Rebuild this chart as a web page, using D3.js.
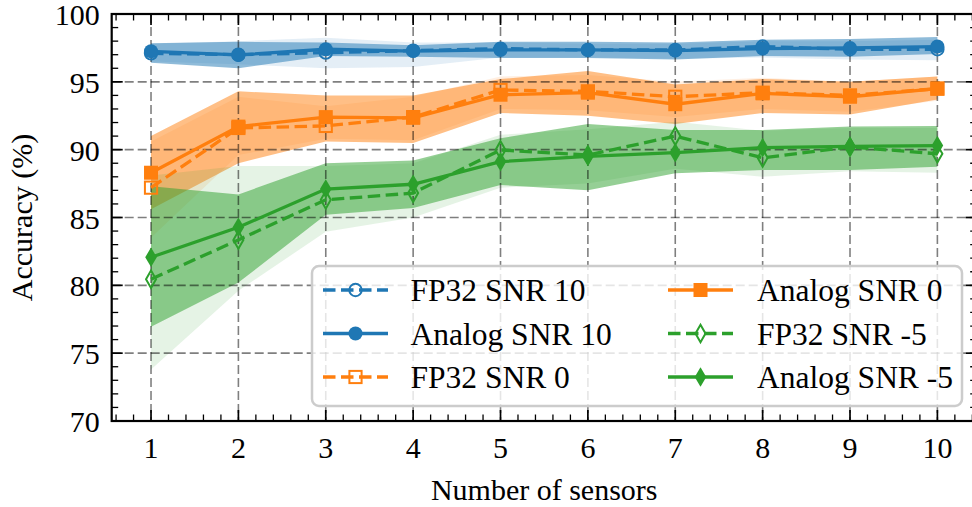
<!DOCTYPE html>
<html>
<head>
<meta charset="utf-8">
<script src="https://cdn.jsdelivr.net/npm/d3@7"></script>
<style>
html,body{margin:0;padding:0;background:#fff;}
svg{display:block;}
text{font-family:"Liberation Serif","Times New Roman",serif;fill:#000;}
</style>
</head>
<body>
<svg id="chart" width="972" height="507"></svg>
<script>
// ---------- data ----------
const sensors = [1,2,3,4,5,6,7,8,9,10];
const yTicks = [70,75,80,85,90,95,100];
const xTicks = [1,2,3,4,5,6,7,8,9,10];

const fp32_10_mean = [97.1,97.0,97.15,97.3,97.45,97.35,97.35,97.6,97.4,97.4];
const fp32_10_lo   = [96.5,96.3,96.0,96.1,96.8,96.8,96.7,96.8,96.65,96.6];
const fp32_10_hi   = [97.8,98.0,98.25,97.9,97.9,97.8,97.8,98.0,98.0,98.1];

const analog_10_mean = [97.25,96.98,97.4,97.27,97.35,97.35,97.3,97.45,97.5,97.6];
const analog_10_lo   = [96.4,96.0,96.9,96.85,96.75,96.75,96.65,96.9,96.85,97.05];
const analog_10_hi   = [97.85,97.95,97.9,97.7,97.95,97.95,97.9,98.1,98.15,98.3];

const fp32_0_mean = [87.2,91.6,91.75,92.4,94.4,94.3,93.9,94.2,94.0,94.5];
const fp32_0_lo   = [83.5,89.6,90.8,90.7,93.0,92.9,92.4,93.0,92.8,93.6];
const fp32_0_hi   = [90.6,93.9,93.2,93.9,95.4,95.5,95.0,95.3,95.0,95.4];

const analog_0_mean = [88.3,91.7,92.4,92.35,94.05,94.2,93.35,94.15,93.9,94.5];
const analog_0_lo   = [85.6,89.0,90.6,90.5,92.7,92.5,91.9,92.7,92.6,93.7];
const analog_0_hi   = [91.0,94.3,94.0,94.0,95.2,95.8,94.8,95.2,95.0,95.4];

const fp32_m5_mean = [80.45,83.35,86.3,86.8,89.98,89.6,91.0,89.4,90.2,89.7];
const fp32_m5_lo   = [73.8,79.6,83.95,85.0,87.2,87.5,88.6,88.0,88.4,88.3];
const fp32_m5_hi   = [88.1,88.8,88.8,89.0,91.1,91.5,92.06,91.4,91.6,91.6];

const analog_m5_mean = [82.07,84.28,87.1,87.45,89.12,89.5,89.78,90.15,90.25,90.3];
const analog_m5_lo   = [76.95,80.2,85.2,85.7,87.4,87.0,88.26,88.5,88.5,88.75];
const analog_m5_hi   = [87.3,86.7,89.0,89.2,90.84,91.9,91.45,91.45,91.7,91.75];

const seriesNames = ["FP32 SNR 10","Analog SNR 10","FP32 SNR 0","Analog SNR 0","FP32 SNR -5","Analog SNR -5"];
const seriesColors = ["#1f77b4","#1f77b4","#ff7f0e","#ff7f0e","#2ca02c","#2ca02c"];
const seriesMarkers = ["circle","circle","square","square","diamond","diamond"];
const seriesFP32 = [true,false,true,false,true,false];
const seriesMeans = [fp32_10_mean,analog_10_mean,fp32_0_mean,analog_0_mean,fp32_m5_mean,analog_m5_mean];
const seriesLo = [fp32_10_lo,analog_10_lo,fp32_0_lo,analog_0_lo,fp32_m5_lo,analog_m5_lo];
const seriesHi = [fp32_10_hi,analog_10_hi,fp32_0_hi,analog_0_hi,fp32_m5_hi,analog_m5_hi];

// ---------- layout ----------
const svg = d3.select("#chart");
const L = 111.7, R = 976.7, T = 14, B = 421;
const x = d3.scaleLinear().domain([0.55,10.45]).range([L,R]);
const y = d3.scaleLinear().domain([70,100]).range([B,T]);
const FS = 30, LFS = 31.5;
const DASH = "12.5,5.5";

svg.append("defs").append("clipPath").attr("id","clip").append("rect")
  .attr("x",L).attr("y",T).attr("width",R-L).attr("height",B-T);

const plot = svg.append("g").attr("clip-path","url(#clip)");

// bands
seriesNames.forEach((n,i)=>{
  const area = d3.area()
    .x((d,j)=>x(sensors[j]))
    .y0((d,j)=>y(seriesLo[i][j]))
    .y1((d,j)=>y(seriesHi[i][j]));
  plot.append("path").datum(sensors)
    .attr("d",area)
    .attr("fill",seriesColors[i])
    .attr("fill-opacity",seriesFP32[i]?0.12:0.5)
    .attr("stroke","none");
});

// grid
const grid = plot.append("g");
xTicks.forEach(t=>{
  grid.append("line").attr("x1",x(t)).attr("x2",x(t)).attr("y1",T).attr("y2",B)
    .attr("stroke","#000").attr("stroke-opacity",0.5).attr("stroke-width",1.6)
    .attr("stroke-dasharray","9,4");
});
yTicks.forEach(t=>{
  grid.append("line").attr("x1",L).attr("x2",R).attr("y1",y(t)).attr("y2",y(t))
    .attr("stroke","#000").attr("stroke-opacity",0.5).attr("stroke-width",1.6)
    .attr("stroke-dasharray","9,4");
});

function drawMarker(g, type, cx, cy, color, hollow){
  let m;
  if(type==="circle"){
    m = g.append("circle").attr("cx",cx).attr("cy",cy).attr("r",hollow?6.2:7);
  } else if(type==="square"){
    const s = hollow?12.2:14;
    m = g.append("rect").attr("x",cx-s/2).attr("y",cy-s/2).attr("width",s).attr("height",s);
  } else {
    const w = hollow?5:5.8, h = hollow?8.8:9.8;
    m = g.append("path").attr("d",`M${cx},${cy-h}L${cx+w},${cy}L${cx},${cy+h}L${cx-w},${cy}Z`);
  }
  if(hollow){ m.attr("fill","none").attr("stroke",color).attr("stroke-width",2); }
  else { m.attr("fill",color).attr("stroke","none"); }
}

// lines + markers
seriesNames.forEach((n,i)=>{
  const line = d3.line().x((d,j)=>x(sensors[j])).y(d=>y(d));
  plot.append("path").datum(seriesMeans[i]).attr("d",line)
    .attr("fill","none").attr("stroke",seriesColors[i]).attr("stroke-width",3.3)
    .attr("stroke-dasharray",seriesFP32[i]?DASH:null);
  const mg = plot.append("g");
  seriesMeans[i].forEach((v,j)=>drawMarker(mg,seriesMarkers[i],x(sensors[j]),y(v),seriesColors[i],seriesFP32[i]));
});

// axes / spines with inward ticks
const ax = svg.append("g");
const xMinor = d3.range(0.6,10.45,0.2).filter(v=>Math.abs(v-Math.round(v))>1e-6);
const yMinor = d3.range(70,100.01,1).filter(v=>v%5!==0);
const tickCol = "#000";
xTicks.forEach(t=>{
  ax.append("line").attr("x1",x(t)).attr("x2",x(t)).attr("y1",B).attr("y2",B-11).attr("stroke",tickCol).attr("stroke-width",1.7);
  ax.append("line").attr("x1",x(t)).attr("x2",x(t)).attr("y1",T).attr("y2",T+11).attr("stroke",tickCol).attr("stroke-width",1.7);
});
xMinor.forEach(t=>{
  ax.append("line").attr("x1",x(t)).attr("x2",x(t)).attr("y1",B).attr("y2",B-6.5).attr("stroke",tickCol).attr("stroke-width",1.3);
  ax.append("line").attr("x1",x(t)).attr("x2",x(t)).attr("y1",T).attr("y2",T+6.5).attr("stroke",tickCol).attr("stroke-width",1.3);
});
yTicks.forEach(t=>{
  ax.append("line").attr("x1",L).attr("x2",L+11).attr("y1",y(t)).attr("y2",y(t)).attr("stroke",tickCol).attr("stroke-width",1.7);
  ax.append("line").attr("x1",R).attr("x2",R-11).attr("y1",y(t)).attr("y2",y(t)).attr("stroke",tickCol).attr("stroke-width",1.7);
});
yMinor.forEach(t=>{
  ax.append("line").attr("x1",L).attr("x2",L+6.5).attr("y1",y(t)).attr("y2",y(t)).attr("stroke",tickCol).attr("stroke-width",1.3);
  ax.append("line").attr("x1",R).attr("x2",R-6.5).attr("y1",y(t)).attr("y2",y(t)).attr("stroke",tickCol).attr("stroke-width",1.3);
});
ax.append("rect").attr("x",L).attr("y",T).attr("width",R-L).attr("height",B-T)
  .attr("fill","none").attr("stroke","#000").attr("stroke-width",2.2);

// tick labels
xTicks.forEach(t=>{
  svg.append("text").attr("x",x(t)).attr("y",B+37).attr("text-anchor","middle")
    .attr("font-size",FS).text(d3.format("d")(t));
});
yTicks.forEach(t=>{
  svg.append("text").attr("x",L-12).attr("y",y(t)+11).attr("text-anchor","end")
    .attr("font-size",FS).text(d3.format("d")(t));
});

// axis labels
svg.append("text").attr("x",(L+R)/2).attr("y",500).attr("text-anchor","middle")
  .attr("font-size",FS).text("Number of sensors");
svg.append("text").attr("transform",`translate(32,${(T+B)/2}) rotate(-90)`)
  .attr("text-anchor","middle").attr("font-size",FS).text("Accuracy (%)");

// legend
const lg = svg.append("g");
lg.append("rect").attr("x",312).attr("y",266).attr("width",650).attr("height",140)
  .attr("rx",7).attr("ry",7).attr("fill","#fff").attr("fill-opacity",0.8)
  .attr("stroke","#cccccc").attr("stroke-width",2.5);
const rowY = [290,333.5,377];
const cols = [{hx:323,tx:410.5},{hx:668,tx:757}];
seriesNames.forEach((n,i)=>{
  const c = cols[Math.floor(i/3)], ry = rowY[i%3];
  lg.append("line").attr("x1",c.hx).attr("x2",c.hx+65).attr("y1",ry).attr("y2",ry)
    .attr("stroke",seriesColors[i]).attr("stroke-width",3.3)
    .attr("stroke-dasharray",seriesFP32[i]?DASH:null);
  drawMarker(lg,seriesMarkers[i],c.hx+32.5,ry,seriesColors[i],seriesFP32[i]);
  lg.append("text").attr("x",c.tx).attr("y",ry+11).attr("font-size",LFS).text(n);
});
</script>
</body>
</html>
